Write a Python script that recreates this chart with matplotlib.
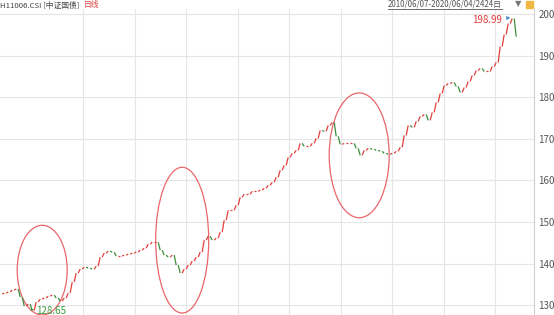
import numpy as np
import matplotlib
matplotlib.use("Agg")
import matplotlib.pyplot as plt
from matplotlib.patches import Ellipse

plt.rcParams['font.family'] = ['Noto Sans CJK SC', 'DejaVu Sans']
narrow = ['Liberation Sans Narrow', 'Noto Sans CJK SC', 'DejaVu Sans']

# closing values, sampled roughly every 18 trading days (2010/06/07 - 2020/06/04)
close = [132.64, 132.88, 133.13, 133.61, 133.85, 131.92, 129.76, 130.24, 128.65, 130.72,
         131.44, 131.68, 132.16, 132.40, 131.68, 130.96, 131.68, 132.88, 135.53, 137.69,
         138.65, 139.13, 138.89, 138.65, 139.38, 141.54, 142.50, 142.98, 142.74, 141.78,
         141.78, 142.02, 142.26, 142.50, 142.74, 143.22, 143.70, 144.66, 145.14, 145.14,
         143.22, 142.02, 141.54, 142.02, 139.62, 137.69, 138.65, 139.62, 140.58, 141.54,
         142.74, 145.63, 146.59, 145.63, 146.11, 147.55, 150.43, 152.84, 152.84, 154.04,
         155.96, 156.68, 156.68, 157.40, 157.40, 157.64, 158.13, 158.85, 159.57, 160.77,
         162.45, 163.65, 165.58, 166.54, 167.26, 168.94, 168.22, 168.22, 168.94, 170.14,
         172.07, 171.83, 173.27, 173.99, 170.63, 168.70, 168.94, 168.94, 168.94, 167.74,
         166.06, 167.26, 167.74, 167.50, 167.26, 167.02, 166.54, 166.30, 166.54, 167.02,
         167.98, 170.87, 173.27, 172.79, 174.23, 175.43, 175.91, 174.47, 176.39, 178.80,
         180.96, 182.88, 183.37, 183.61, 182.64, 181.20, 182.40, 183.85, 185.29, 186.49,
         186.97, 186.25, 186.25, 187.45, 188.41, 192.26, 195.14, 197.79, 198.99, 194.66]

yticks = [130, 140, 150, 160, 170, 180, 190, 200]
code = "H11006.CSI"
name = "[中证国债]"
period = "日线"
span = "2010/06/07-2020/06/04/2424日"

up_col = "#e0403c"
dn_col = "#3b8f3b"

fig = plt.figure(figsize=(5.54, 3.15), dpi=100)
ax = fig.add_axes([0, 0, 534 / 554, 1 - 9 / 315])

x = np.arange(len(close))
for i in range(1, len(close)):
    c = up_col if close[i] >= close[i - 1] else dn_col
    ax.plot([x[i - 1] + 0.25, x[i] - 0.25], [close[i - 1], close[i]],
            color=c, lw=0.9, solid_capstyle='butt')

ax.set_xlim(-0.3, 133.2)
ax.set_ylim(127.6, 201.3)

# grid
for v in yticks:
    ax.axhline(v, color="#e6e6e6", lw=0.8, zorder=0)
for k in range(9):
    ax.axvline(20.5 + 12.875 * k, color="#e6e6e6", lw=0.8, zorder=0)

for s in ['top', 'left', 'bottom']:
    ax.spines[s].set_visible(False)
ax.spines['right'].set_color("#d0d0d0")
ax.spines['right'].set_linewidth(0.8)
ax.yaxis.tick_right()
ax.set_yticks(yticks)
ax.tick_params(axis='y', length=0, pad=3, labelsize=7, labelcolor="#555555")
ax.set_xticks([])

# circled regions
for cx, cy, w, h in [(10.25, 138.41, 12.5, 21.6), (45.25, 145.63, 13.25, 35.1),
                     (89.5, 166.06, 15.0, 30.05)]:
    ax.add_patch(Ellipse((cx, cy), w, h, fill=False, ec="#e8666a", lw=0.9))

# max / min labels
imax = int(np.argmax(close))
imin = int(np.argmin(close))
ax.annotate(f"{close[imax]:.2f}", xy=(imax, close[imax] + 0.3), xytext=(imax - 2.8, close[imax] - 0.4),
            color="#e03c3c", fontsize=7, ha='right', va='center', family=narrow,
            arrowprops=dict(arrowstyle='-|>', color="#5b8fd0", lw=0.7, mutation_scale=5))
ax.annotate(f"{close[imin]:.2f}", xy=(imin - 0.6, close[imin] + 0.3), xytext=(imin + 0.7, close[imin] - 0.05),
            color="#3b9a3b", fontsize=7, ha='left', va='center', family=narrow,
            arrowprops=dict(arrowstyle='-', color="#3b9a3b", lw=0.7))

# header
W, H = 554, 315
t1 = fig.text(0.0, 1 - 5.5 / H, code + " " + name, fontsize=5.6, color="#444444",
              va='center', ha='left', family=narrow)
r = fig.canvas.get_renderer()
bb = t1.get_window_extent(r)
fig.text((bb.x1 + 4) / W, 1 - 5.5 / H, period, fontsize=5.6, color="#e03c3c",
         va='center', ha='left')
t2 = fig.text(502 / W, 1 - 3.5 / H, span, fontsize=5.7, color="#555555", va='center', ha='right',
              family=narrow)
bb2 = t2.get_window_extent(r)
fig.add_artist(plt.Line2D([bb2.x0 / W, 502 / W], [1 - 8.5 / H, 1 - 8.5 / H],
                          color="#555555", lw=0.6))
fig.text(518 / W, 1 - 4 / H, "▼", fontsize=6, color="#777777", va='center', ha='center',
         family='DejaVu Sans')
fig.patches.append(plt.Rectangle((526 / W, 1 - 8 / H), 7 / W, 7 / H,
                                 transform=fig.transFigure, color="#f0b840"))

fig.savefig("out.png", dpi=100)
